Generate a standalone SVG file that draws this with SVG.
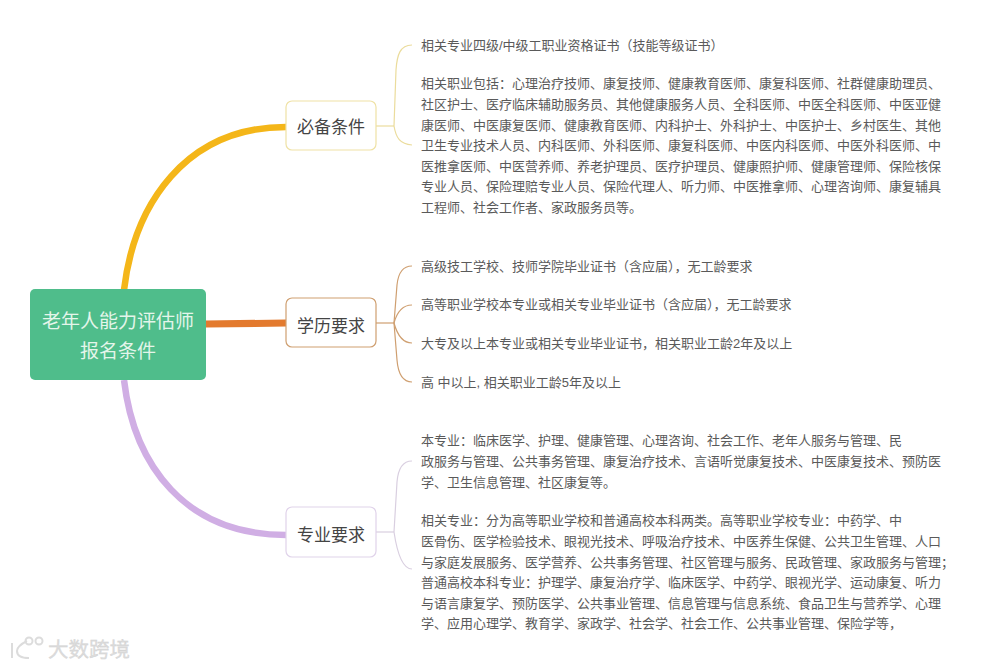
<svg xmlns="http://www.w3.org/2000/svg" width="993" height="668" viewBox="0 0 993 668">
<style>
text{font-family:"Liberation Sans","Noto Sans CJK SC",sans-serif}
.t{font-size:13px;fill:#5a5a5a}
.n{font-size:17px;fill:#444;text-anchor:middle}
.r{font-size:19px;fill:#e4f5ea;text-anchor:middle}
.b{fill:#fff;stroke-width:1.2}
.c{fill:none}
</style>
<rect width="993" height="668" fill="#fff"/>
<g id="connectors">
<path class="c" d="M124 290C134 205 185 127 286 127" stroke="#f4b619" stroke-width="6.5"/>
<path class="c" d="M206 324L286 323" stroke="#e37a2e" stroke-width="7"/>
<path class="c" d="M124 380C134 465 185 535 286 535" stroke="#d0aee4" stroke-width="6.5"/>
<g stroke="#ebdc9c" stroke-width="1.2" fill="none">
<path d="M376 126H394"/>
<path d="M412 45C400 45 397 55 396 70L394 126"/>
<path d="M412 145C400 144 396 138 394 126"/>
</g>
<g stroke="#cf9f70" stroke-width="1.2" fill="none">
<path d="M376 323H394"/>
<path d="M412 266C402 266 398 275 397 285L394 323"/>
<path d="M412 305C402 305 397 312 394 323"/>
<path d="M412 343C402 343 397 334 394 323"/>
<path d="M412 382C402 382 398 372 397 360L394 323"/>
</g>
<g stroke="#d9cfe0" stroke-width="1.2" fill="none">
<path d="M376 532H394"/>
<path d="M412 461C402 461 398 470 397 482L394 532"/>
<path d="M412 569C402 569 397 552 394 532"/>
</g>
</g>
<g id="root">
<rect x="30" y="289" width="176" height="91" rx="5" fill="#4fbd8b"/>
<text class="r" x="118" y="328">老年人能力评估师</text>
<text class="r" x="118" y="358">报名条件</text>
</g>
<g id="node-bibei">
<rect class="b" x="286" y="101" width="90" height="49" rx="6" stroke="#efe2a5"/>
<text class="n" x="331" y="133">必备条件</text>
</g>
<g id="node-xueli">
<rect class="b" x="286" y="298" width="90" height="49" rx="6" stroke="#cf9f70"/>
<text class="n" x="331" y="332">学历要求</text>
</g>
<g id="node-zhuanye">
<rect class="b" x="286" y="507" width="90" height="50" rx="6" stroke="#e0d3ea"/>
<text class="n" x="331" y="541">专业要求</text>
</g>
<g id="text-bibei">
<text class="t" x="421" y="50">相关专业四级/中级工职业资格证书（技能等级证书）</text>
<text class="t" x="421" y="88">相关职业包括：心理治疗技师、康复技师、健康教育医师、康复科医师、社群健康助理员、</text>
<text class="t" x="421" y="109">社区护士、医疗临床辅助服务员、其他健康服务人员、全科医师、中医全科医师、中医亚健</text>
<text class="t" x="421" y="130">康医师、中医康复医师、健康教育医师、内科护士、外科护士、中医护士、乡村医生、其他</text>
<text class="t" x="421" y="150">卫生专业技术人员、内科医师、外科医师、康复科医师、中医内科医师、中医外科医师、中</text>
<text class="t" x="421" y="171">医推拿医师、中医营养师、养老护理员、医疗护理员、健康照护师、健康管理师、保险核保</text>
<text class="t" x="421" y="191">专业人员、保险理赔专业人员、保险代理人、听力师、中医推拿师、心理咨询师、康复辅具</text>
<text class="t" x="421" y="212">工程师、社会工作者、家政服务员等。</text>
</g>
<g id="text-xueli">
<text class="t" x="421" y="271">高级技工学校、技师学院毕业证书（含应届），无工龄要求</text>
<text class="t" x="421" y="309">高等职业学校本专业或相关专业毕业证书（含应届），无工龄要求</text>
<text class="t" x="421" y="348">大专及以上本专业或相关专业毕业证书，相关职业工龄2年及以上</text>
<text class="t" x="421" y="387">高 中以上, 相关职业工龄5年及以上</text>
</g>
<g id="text-zhuanye">
<text class="t" x="421" y="445">本专业：临床医学、护理、健康管理、心理咨询、社会工作、老年人服务与管理、民</text>
<text class="t" x="421" y="466">政服务与管理、公共事务管理、康复治疗技术、言语听觉康复技术、中医康复技术、预防医</text>
<text class="t" x="421" y="487">学、卫生信息管理、社区康复等。</text>
<text class="t" x="421" y="525">相关专业：分为高等职业学校和普通高校本科两类。高等职业学校专业：中药学、中</text>
<text class="t" x="421" y="546">医骨伤、医学检验技术、眼视光技术、呼吸治疗技术、中医养生保健、公共卫生管理、人口</text>
<text class="t" x="421" y="567">与家庭发展服务、医学营养、公共事务管理、社区管理与服务、民政管理、家政服务与管理；</text>
<text class="t" x="421" y="587">普通高校本科专业：护理学、康复治疗学、临床医学、中药学、眼视光学、运动康复、听力</text>
<text class="t" x="421" y="608">与语言康复学、预防医学、公共事业管理、信息管理与信息系统、食品卫生与营养学、心理</text>
<text class="t" x="421" y="628">学、应用心理学、教育学、家政学、社会学、社会工作、公共事业管理、保险学等，</text>
</g>
<g id="watermark">
<g fill="none" stroke="#dcdcdc" stroke-width="2">
<path d="M12 643V658M27 641C19 645 17 649 17 651C17 655 21 658 29 658"/>
<circle cx="29" cy="641" r="3.5"/><circle cx="39" cy="641" r="3.5"/>
</g>
<text x="48" y="657" font-size="20.5" fill="#dcdcdc" stroke="#cfcfcf" stroke-width=".3">大数跨境</text>
</g>
</svg>
